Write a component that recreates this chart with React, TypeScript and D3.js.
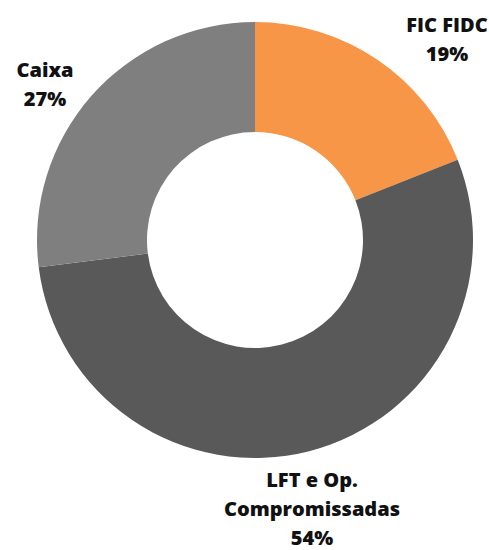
import React from "react";
import { pie, arc } from "d3";

// Donut chart: portfolio allocation

const categories = ["FIC FIDC", "LFT e Op. Compromissadas", "Caixa"];
const values = [19, 54, 27];
const labelLines = [["FIC FIDC", "19%"], ["LFT e Op.", "Compromissadas", "54%"], ["Caixa", "27%"]];
const colors = ["#F79646", "#595959", "#7F7F7F"];

const width = 489,
    height = 550,
    cx = 255,
    cy = 240,
    outerR = 218,
    innerR = 108;

// label anchor (center x, first baseline) for each slice
const labelPos = [[447, 32], [312, 487], [45, 77]];
const lineGap = 29;

export default function App() {
    const slices = pie<number>().sort(null)(values);
    const arcGen = arc<any>().innerRadius(innerR).outerRadius(outerR);

    return (
        <svg width={width} height={height} style={{ position: "absolute", left: 0, top: 0 }}>
            <g transform={`translate(${cx},${cy})`}>
                {slices.map((s, i) => (
                    <path key={categories[i]} d={arcGen(s) || ""} fill={colors[i]} />
                ))}
            </g>
            {labelLines.map((lines, i) =>
                lines.map((t, j) => (
                    <text
                        key={i + "-" + j}
                        x={labelPos[i][0]}
                        y={labelPos[i][1] + j * lineGap}
                        textAnchor="middle"
                        fontFamily="'Open Sans', sans-serif"
                        fontWeight={800}
                        fontSize={20}
                        fill="#111"
                    >
                        {t}
                    </text>
                ))
            )}
        </svg>
    );
}
